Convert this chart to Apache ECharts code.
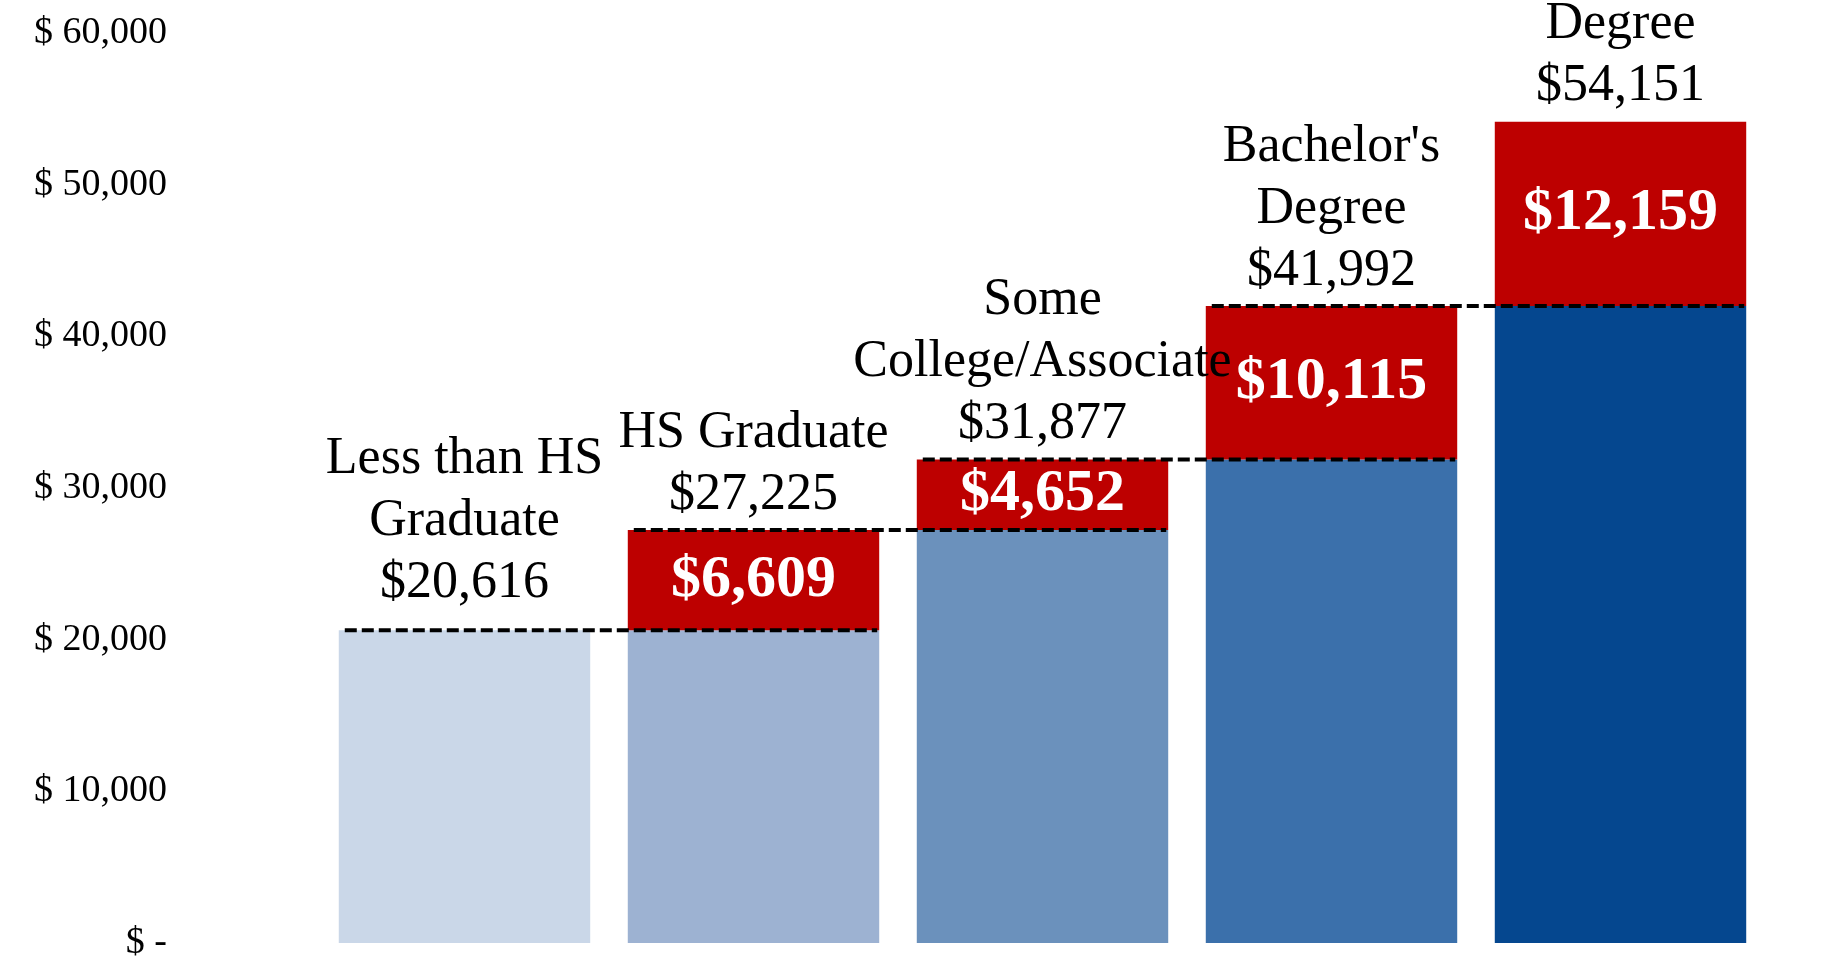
<!DOCTYPE html>
<html lang="en">
<head>
    <meta charset="UTF-8">
    <title>Earnings by education</title>
    <script src="https://cdn.jsdelivr.net/npm/echarts@6/dist/echarts.min.js"></script>
    <style>
        html, body { margin: 0; padding: 0; background: #fff; }
        #chart { width: 1834px; height: 962px; }
    </style>
</head>
<body>
<div id="chart"></div>
<script>
    // data
    const categories = ['Less than HS\nGraduate', 'HS Graduate', 'Some\nCollege/Associate', "Bachelor's\nDegree", 'Advanced\nDegree'];
    const totals = [20616, 27225, 31877, 41992, 54151];
    const gains = [0, 6609, 4652, 10115, 12159];
    const yTicks = [0, 10000, 20000, 30000, 40000, 50000, 60000];

    const blues = ['#cad7e8', '#9db2d2', '#6b91bc', '#3b70ab', '#05478f'];
    const red = '#bd0000';
    const serif = '"Liberation Serif", "DejaVu Serif", serif';
    const gapPct = 0.13;

    const money = v => '$' + v.toLocaleString('en-US');
    const base = totals.map((t, i) => t - gains[i]);

    const chart = echarts.init(document.getElementById('chart'));

    chart.setOption({
        animation: false,
        grid: {left: 320, right: 69, top: 33, bottom: 11},
        xAxis: {
            type: 'category',
            data: categories,
            axisLine: {show: false},
            axisTick: {show: false},
            axisLabel: {show: false}
        },
        yAxis: {
            type: 'value',
            min: yTicks[0],
            max: yTicks[yTicks.length - 1],
            interval: 10000,
            splitLine: {show: false},
            axisLine: {show: false},
            axisTick: {show: false},
            axisLabel: {
                margin: 153,
                color: '#000',
                fontFamily: serif,
                fontSize: 38,
                // accounting style: "$ 60,000", "$ -"
                formatter: v => v === 0 ? '$ -' : '$ ' + v.toLocaleString('en-US')
            }
        },
        series: [
            {
                name: 'base',
                type: 'bar',
                stack: 'total',
                barCategoryGap: (gapPct * 100) + '%',
                data: base.map((v, i) => ({value: v, itemStyle: {color: blues[i]}}))
            },
            {
                name: 'gain',
                type: 'bar',
                stack: 'total',
                itemStyle: {color: red},
                data: gains.map(v => v === 0 ? '-' : v),
                label: {
                    show: true,
                    position: 'inside',
                    color: '#fff',
                    fontFamily: serif,
                    fontWeight: 'bold',
                    fontSize: 60,
                    formatter: p => money(p.value)
                }
            },
            {
                name: 'totals',
                type: 'scatter',
                symbolSize: 0.1,
                itemStyle: {color: 'rgba(0,0,0,0)'},
                data: totals.map((v, i) => i === 0 ? {value: v, label: {distance: 16}} : v),
                z: 5,
                label: {
                    show: true,
                    position: 'top',
                    distance: 4,
                    color: '#000',
                    opacity: 1,
                    fontFamily: serif,
                    fontSize: 52,
                    lineHeight: 62,
                    align: 'center',
                    formatter: p => categories[p.dataIndex] + '\n' + money(p.value)
                }
            },
            {
                // dashed step lines joining each bar top to the next bar
                name: 'steps',
                type: 'custom',
                z: 10,
                silent: true,
                data: totals.slice(0, -1).map((t, i) => [i, t]),
                renderItem(params, api) {
                    const i = api.value(0);
                    const y = api.coord([i, api.value(1)])[1];
                    const band = api.size([1, 0])[0];
                    const bw = band * (1 - gapPct);
                    const x1 = api.coord([i, 0])[0] - bw / 2 + 6;
                    const x2 = api.coord([i + 1, 0])[0] + bw / 2 - 2;
                    return {
                        type: 'line',
                        shape: {x1: x1, y1: y, x2: x2, y2: y},
                        style: {stroke: '#000', lineWidth: 4, lineDash: [12, 5]}
                    };
                }
            }
        ]
    });
</script>
</body>
</html>
